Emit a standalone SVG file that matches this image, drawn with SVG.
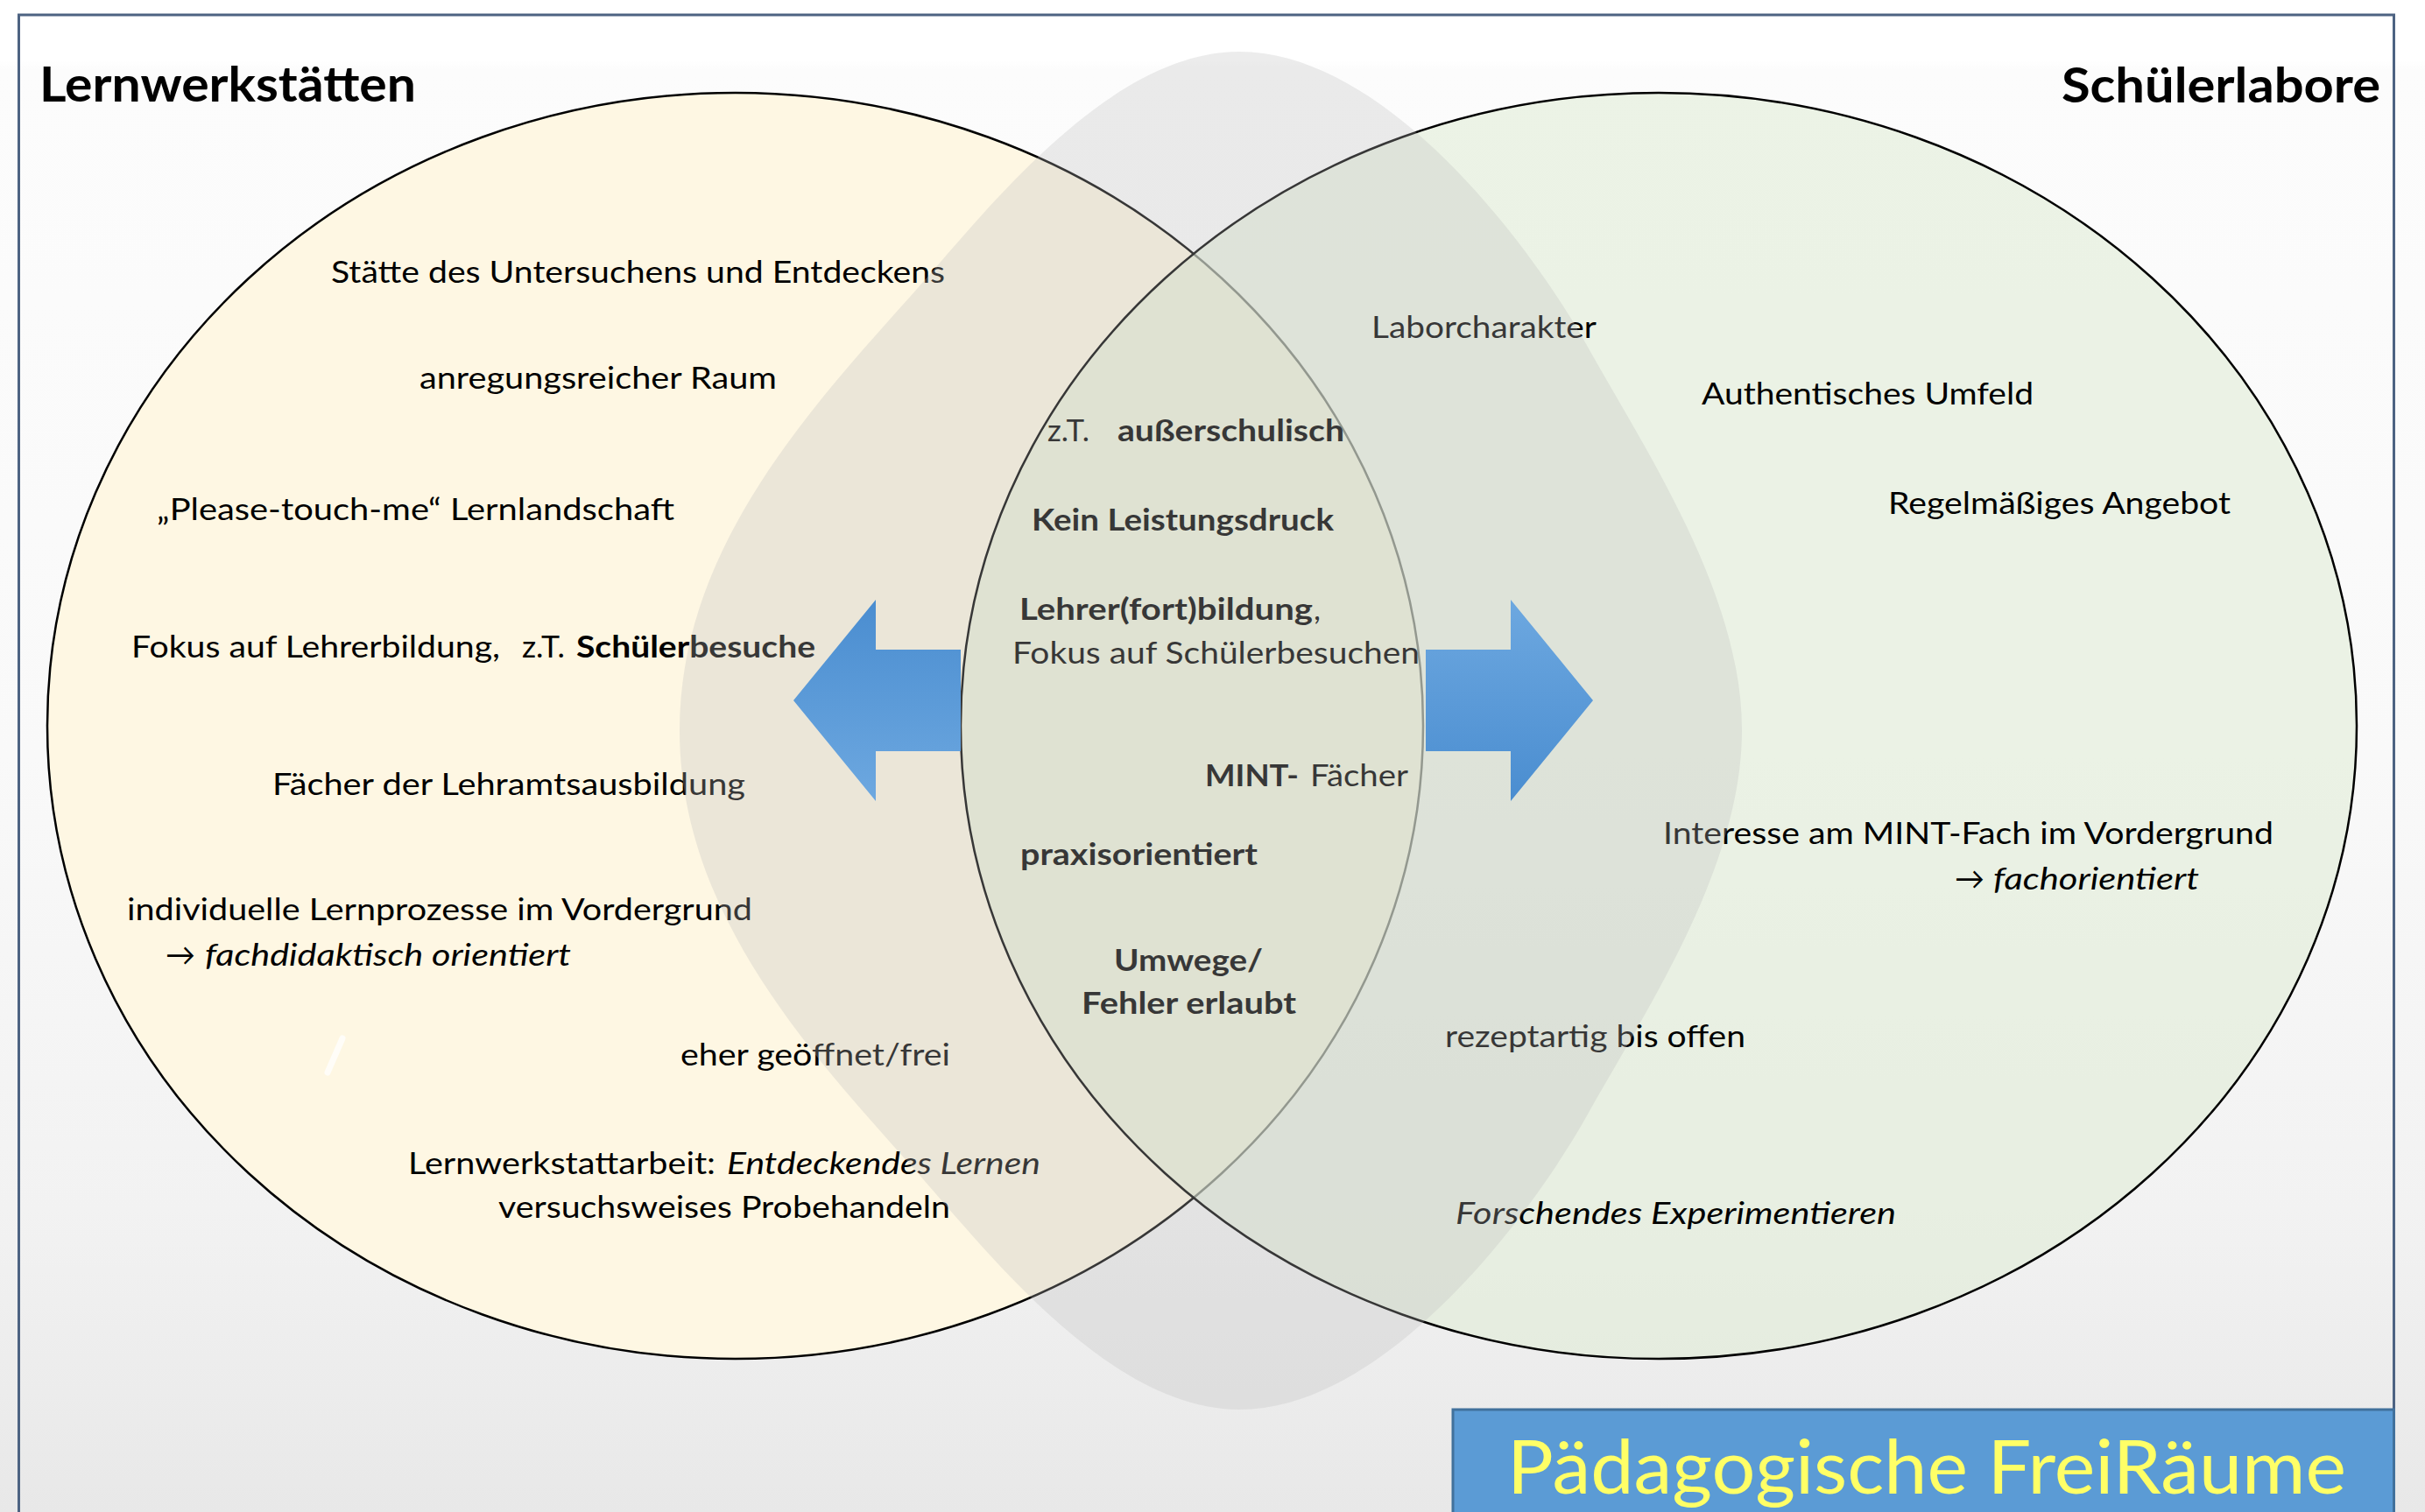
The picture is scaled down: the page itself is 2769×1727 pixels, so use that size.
<svg xmlns="http://www.w3.org/2000/svg" width="2769" height="1727" viewBox="0 0 2769 1727">
<defs>
<linearGradient id="bg" x1="0" y1="0" x2="0" y2="1">
<stop offset="0" stop-color="#ffffff"/>
<stop offset="0.04" stop-color="#ffffff"/>
<stop offset="0.046" stop-color="#fcfcfc"/>
<stop offset="0.5" stop-color="#f9f9f9"/>
<stop offset="0.8" stop-color="#f2f2f2"/>
<stop offset="1" stop-color="#e8e8e8"/>
</linearGradient>
<linearGradient id="arrL" x1="0" y1="0" x2="0" y2="1">
<stop offset="0" stop-color="#4a8dd0"/>
<stop offset="1" stop-color="#6da8e0"/>
</linearGradient>
<linearGradient id="arrR" x1="0" y1="0" x2="0" y2="1">
<stop offset="0" stop-color="#6da8e0"/>
<stop offset="1" stop-color="#4a8dd0"/>
</linearGradient>
<style>
.t{font-family:Lato,"Liberation Sans",sans-serif;font-size:35px;fill:#000}
.b{font-weight:700}
.i{font-style:italic}
.h{font-size:56px;font-weight:700}
.el{stroke:#000;stroke-width:2.5}
.arr{stroke:none}
</style>
</defs>
<rect x="0" y="0" width="2769" height="1727" fill="url(#bg)"/>
<rect x="21.5" y="17" width="2712" height="1800" fill="none" stroke="#4d6382" stroke-width="3"/>

<g id="ellipse-lernwerkstaetten">
<ellipse class="el" cx="839.5" cy="829" rx="785.5" ry="723" fill="#fef7e3"/>
</g>
<g id="ellipse-schuelerlabore">
<ellipse class="el" cx="1894" cy="829" rx="797" ry="723" fill="#e0ecd6" fill-opacity="0.58"/>
</g>

<g id="heading-lernwerkstaetten">
<text class="t h" x="45" y="116" textLength="430" lengthAdjust="spacingAndGlyphs">Lernwerkstätten</text>
</g>
<g id="heading-schuelerlabore">
<text class="t h" x="2354" y="117" textLength="364" lengthAdjust="spacingAndGlyphs">Schülerlabore</text>
</g>

<g id="texts-lernwerkstaetten">
<text class="t" x="378" y="323" textLength="701" lengthAdjust="spacingAndGlyphs">Stätte des Untersuchens und Entdeckens</text>
<text class="t" x="479" y="444" textLength="408" lengthAdjust="spacingAndGlyphs">anregungsreicher Raum</text>
<text class="t" x="179" y="594" textLength="591" lengthAdjust="spacingAndGlyphs">„Please-touch-me“ Lernlandschaft</text>
<text class="t" x="150" y="751" textLength="421" lengthAdjust="spacingAndGlyphs">Fokus auf Lehrerbildung,</text>
<text class="t" x="596" y="751" textLength="49" lengthAdjust="spacingAndGlyphs">z.T.</text>
<text class="t b" x="658" y="751" textLength="273" lengthAdjust="spacingAndGlyphs">Schülerbesuche</text>
<text class="t" x="311" y="908" textLength="540" lengthAdjust="spacingAndGlyphs">Fächer der Lehramtsausbildung</text>
<text class="t" x="145" y="1051" textLength="714" lengthAdjust="spacingAndGlyphs">individuelle Lernprozesse im Vordergrund</text>
<text class="t" x="189" y="1103" textLength="34" lengthAdjust="spacingAndGlyphs">→</text>
<text class="t i" x="234" y="1103" textLength="418" lengthAdjust="spacingAndGlyphs">fachdidaktisch orientiert</text>
<text class="t" x="777" y="1217" textLength="308" lengthAdjust="spacingAndGlyphs">eher geöffnet/frei</text>
<text class="t" x="466" y="1341" textLength="351" lengthAdjust="spacingAndGlyphs">Lernwerkstattarbeit:</text>
<text class="t i" x="830" y="1341" textLength="358" lengthAdjust="spacingAndGlyphs">Entdeckendes Lernen</text>
<text class="t" x="569" y="1391" textLength="516" lengthAdjust="spacingAndGlyphs">versuchsweises Probehandeln</text>
<path d="M391,1186 L374,1225" stroke="#ffffff" stroke-width="7" stroke-linecap="round" opacity="0.75" fill="none"/>
</g>

<g id="texts-gemeinsam">
<text class="t" x="1196" y="504" textLength="48" lengthAdjust="spacingAndGlyphs">z.T.</text>
<text class="t b" x="1276" y="504" textLength="259" lengthAdjust="spacingAndGlyphs">außerschulisch</text>
<text class="t b" x="1178" y="606" textLength="345" lengthAdjust="spacingAndGlyphs">Kein Leistungsdruck</text>
<text class="t b" x="1164" y="708" textLength="335" lengthAdjust="spacingAndGlyphs">Lehrer(fort)bildung</text>
<text class="t" x="1500" y="708">,</text>
<text class="t" x="1156" y="758" textLength="465" lengthAdjust="spacingAndGlyphs">Fokus auf Schülerbesuchen</text>
<text class="t b" x="1376" y="898" textLength="107" lengthAdjust="spacingAndGlyphs">MINT-</text>
<text class="t" x="1496" y="898" textLength="112" lengthAdjust="spacingAndGlyphs">Fächer</text>
<text class="t b" x="1165" y="988" textLength="271" lengthAdjust="spacingAndGlyphs">praxisorientiert</text>
<text class="t b" x="1272" y="1109" textLength="170" lengthAdjust="spacingAndGlyphs">Umwege/</text>
<text class="t b" x="1235" y="1158" textLength="245" lengthAdjust="spacingAndGlyphs">Fehler erlaubt</text>
</g>

<g id="texts-schuelerlabore">
<text class="t" x="1566" y="386" textLength="257" lengthAdjust="spacingAndGlyphs">Laborcharakter</text>
<text class="t" x="1943" y="462" textLength="379" lengthAdjust="spacingAndGlyphs">Authentisches Umfeld</text>
<text class="t" x="2156" y="587" textLength="391" lengthAdjust="spacingAndGlyphs">Regelmäßiges Angebot</text>
<text class="t" x="1899" y="964" textLength="697" lengthAdjust="spacingAndGlyphs">Interesse am MINT-Fach im Vordergrund</text>
<text class="t" x="2232" y="1016" textLength="34" lengthAdjust="spacingAndGlyphs">→</text>
<text class="t i" x="2276" y="1016" textLength="235" lengthAdjust="spacingAndGlyphs">fachorientiert</text>
<text class="t" x="1650" y="1196" textLength="343" lengthAdjust="spacingAndGlyphs">rezeptartig bis offen</text>
<text class="t i" x="1662" y="1398" textLength="503" lengthAdjust="spacingAndGlyphs">Forschendes Experimentieren</text>
</g>

<g id="freiraum-overlay">
<path d="M1415,59 C1585,59 1753,287 1815,400 C1889,530 1989,684 1989,834 C1989,985 1889,1139 1815,1269 C1753,1382 1585,1610 1415,1610 C1263,1610 1120,1420 1040,1331 C920,1197 776,1039 776,834 C776,630 920,472 1040,338 C1120,249 1263,59 1415,59 Z" fill="#bebebe" fill-opacity="0.29"/>
</g>

<g id="connectors">
<polygon class="arr" points="906,800 1000,685 1000,742 1097,742 1097,858 1000,858 1000,915" fill="url(#arrL)"/>
<polygon class="arr" points="1819,800 1725,685 1725,742 1628,742 1628,858 1725,858 1725,915" fill="url(#arrR)"/>
</g>

<g id="title">
<rect x="1659" y="1610" width="1074.5" height="140" fill="#5b9bd5" stroke="#41719c" stroke-width="3"/>
<text x="1721" y="1706" font-family="Lato,'Liberation Sans',sans-serif" font-size="85" fill="#ffff66" textLength="958" lengthAdjust="spacingAndGlyphs">Pädagogische FreiRäume</text>
</g>
</svg>
